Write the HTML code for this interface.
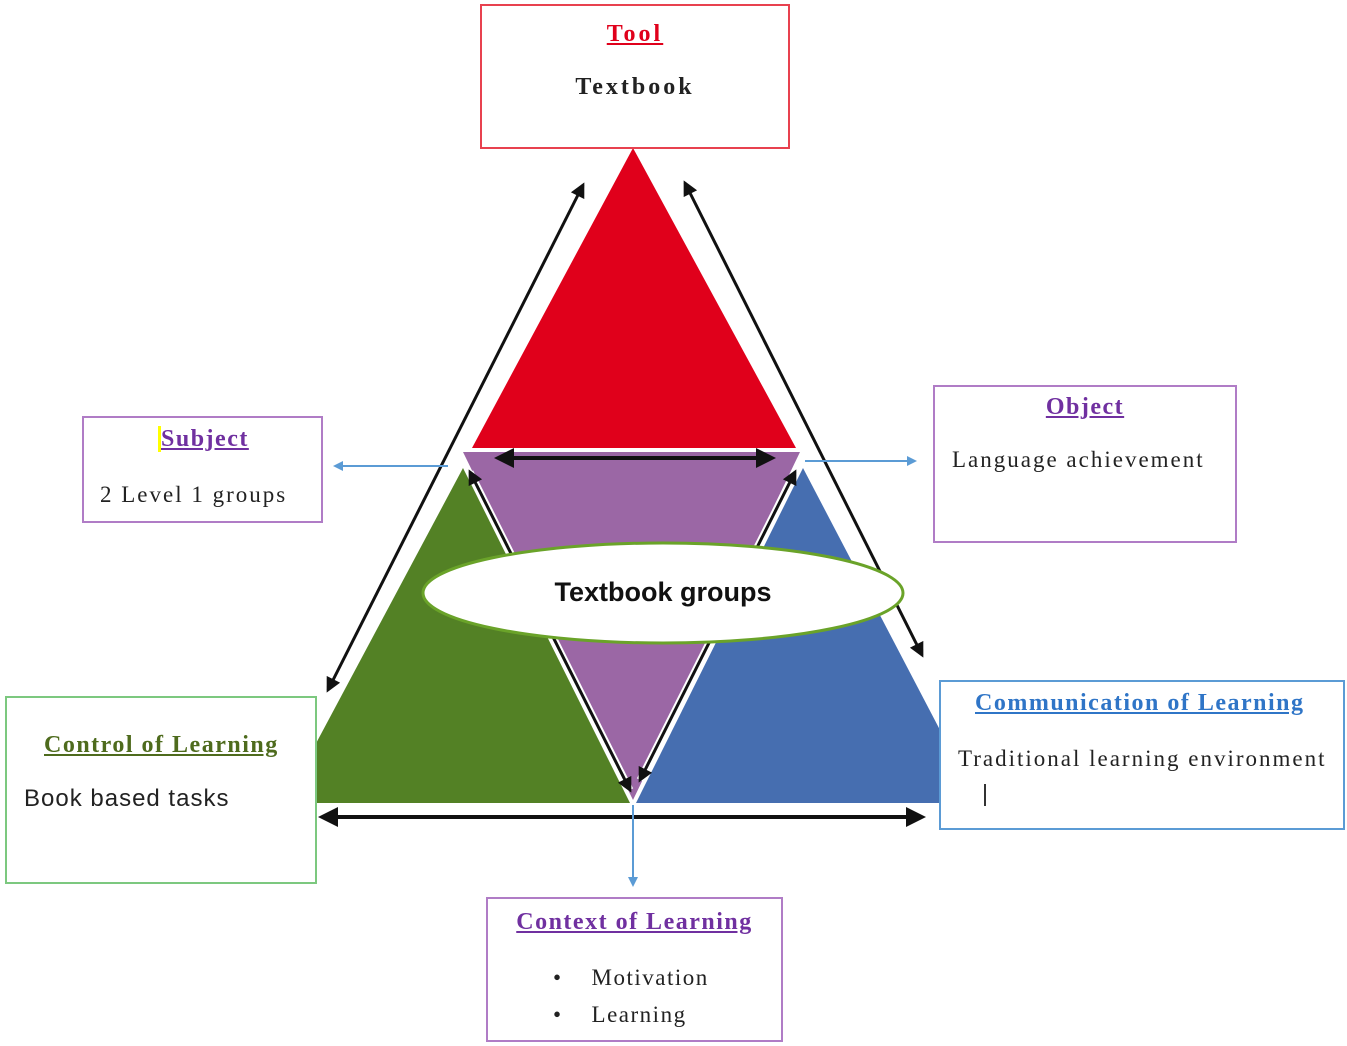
<!DOCTYPE html>
<html><head><style>
body{margin:0;width:1347px;height:1046px;background:#fff;overflow:hidden;font-family:"Liberation Serif",serif;}
svg{position:absolute;left:0;top:0}
.b{position:absolute;background:#fff;box-sizing:border-box}
.h{position:absolute;font-weight:bold;text-decoration:underline;font-size:24px;letter-spacing:1.5px;white-space:nowrap}
.t{position:absolute;font-size:23px;letter-spacing:2px;white-space:nowrap;color:#222}
</style></head><body>
<svg width="1347" height="1046">
<defs>
<marker id="a" viewBox="0 0 10 10" refX="8" refY="5" markerWidth="5" markerHeight="5" orient="auto-start-reverse"><path d="M0,0L10,5L0,10z" fill="#111"/></marker>
<marker id="c" viewBox="0 0 10 10" refX="8" refY="5" markerWidth="5" markerHeight="5" orient="auto-start-reverse"><path d="M0,0L10,5L0,10z" fill="#5b9bd5"/></marker>
</defs>
<polygon points="633,148 472,448 796,448" fill="#e0001b"/>
<polygon points="463,452 800,452 633,800" fill="#9b67a5"/>
<polygon points="463,468 313,749 313,803 630,803" fill="#538125"/>
<polygon points="803,468 636,803 940,803 940,730" fill="#466eb0"/>
<line x1="470" y1="472" x2="630" y2="790" stroke="#fff" stroke-width="7"/>
<line x1="795" y1="472" x2="640" y2="780" stroke="#fff" stroke-width="7"/>
<line x1="470" y1="472" x2="630" y2="790" stroke="#111" stroke-width="3" marker-start="url(#a)" marker-end="url(#a)"/>
<line x1="795" y1="472" x2="640" y2="780" stroke="#111" stroke-width="3" marker-start="url(#a)" marker-end="url(#a)"/>
<line x1="583" y1="185" x2="328" y2="690" stroke="#111" stroke-width="3" marker-start="url(#a)" marker-end="url(#a)"/>
<line x1="685" y1="183" x2="922" y2="655" stroke="#111" stroke-width="3" marker-start="url(#a)" marker-end="url(#a)"/>
<line x1="498" y1="458" x2="772" y2="458" stroke="#111" stroke-width="4" marker-start="url(#a)" marker-end="url(#a)"/>
<line x1="322" y1="817" x2="922" y2="817" stroke="#111" stroke-width="4" marker-start="url(#a)" marker-end="url(#a)"/>
<line x1="448" y1="466" x2="335" y2="466" stroke="#5b9bd5" stroke-width="2" marker-end="url(#c)"/>
<line x1="805" y1="461" x2="915" y2="461" stroke="#5b9bd5" stroke-width="2" marker-end="url(#c)"/>
<line x1="633" y1="805" x2="633" y2="885" stroke="#5b9bd5" stroke-width="2" marker-end="url(#c)"/>
<ellipse cx="663" cy="593" rx="240" ry="50" fill="#fff" stroke="#6aa329" stroke-width="3"/>
<text x="663" y="601" text-anchor="middle" font-family="Liberation Sans,sans-serif" font-size="27" font-weight="bold" fill="#111">Textbook groups</text>
</svg>
<div class="b" style="left:480px;top:4px;width:310px;height:145px;border:2px solid #e8414f"></div>
<div class="h" style="left:480px;width:310px;text-align:center;top:21px;color:#e0001b;letter-spacing:3px">Tool</div>
<div class="t" style="left:480px;width:310px;text-align:center;top:74px;font-weight:bold;font-size:24px;letter-spacing:3px">Textbook</div>

<div class="b" style="left:82px;top:416px;width:241px;height:107px;border:2px solid #b07cc6"></div>
<div class="h" style="left:158px;top:426px;color:#7030a0"><span style="border-left:3px solid #ff0">Subject</span></div>
<div class="t" style="left:100px;top:482px">2 Level 1 groups</div>

<div class="b" style="left:933px;top:385px;width:304px;height:158px;border:2px solid #b07cc6"></div>
<div class="h" style="left:933px;width:304px;text-align:center;top:394px;color:#7030a0">Object</div>
<div class="t" style="left:952px;top:447px">Language achievement</div>

<div class="b" style="left:5px;top:696px;width:312px;height:188px;border:2px solid #7cc87f"></div>
<div class="h" style="left:44px;top:732px;color:#4e6b1d">Control of Learning</div>
<div class="t" style="left:24px;top:785px;font-family:'Liberation Sans',sans-serif;font-size:24px;letter-spacing:1px">Book based tasks</div>

<div class="b" style="left:939px;top:680px;width:406px;height:150px;border:2px solid #5b9bd5"></div>
<div class="h" style="left:975px;top:690px;color:#2f75c7">Communication of Learning</div>
<div class="t" style="left:958px;top:746px">Traditional learning environment</div>
<div style="position:absolute;left:984px;top:784px;width:2px;height:22px;background:#333"></div>

<div class="b" style="left:486px;top:897px;width:297px;height:145px;border:2px solid #b07cc6"></div>
<div class="h" style="left:486px;width:297px;text-align:center;top:909px;color:#7030a0">Context of Learning</div>
<div class="t" style="left:553px;top:965px;letter-spacing:1.5px">•&nbsp;&nbsp;&nbsp;&nbsp;Motivation</div>
<div class="t" style="left:553px;top:1002px;letter-spacing:1.5px">•&nbsp;&nbsp;&nbsp;&nbsp;Learning</div>
</body></html>
